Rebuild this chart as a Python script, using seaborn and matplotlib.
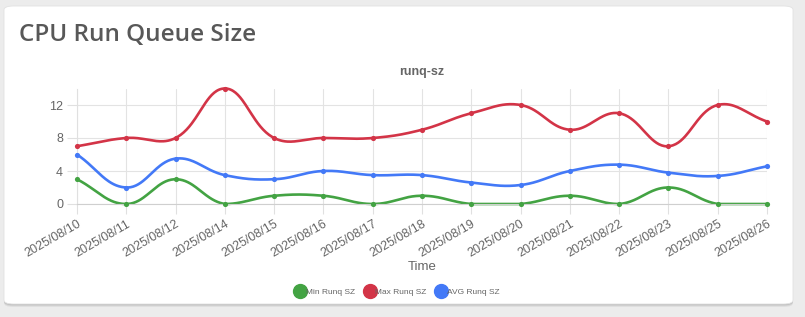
import numpy as np
import pandas as pd
import matplotlib
matplotlib.use("Agg")
import matplotlib.pyplot as plt
from matplotlib.patches import FancyBboxPatch
from matplotlib.lines import Line2D
import seaborn as sns

# ---- data -------------------------------------------------------------
dates = ["2025/08/10", "2025/08/11", "2025/08/12", "2025/08/14", "2025/08/15",
         "2025/08/16", "2025/08/17", "2025/08/18", "2025/08/19", "2025/08/20",
         "2025/08/21", "2025/08/22", "2025/08/23", "2025/08/25", "2025/08/26"]
min_runq = [3, 0, 3, 0, 1, 1, 0, 1, 0, 0, 1, 0, 2, 0, 0]
max_runq = [7, 8, 8, 14, 8, 8, 8, 9, 11, 12, 9, 11, 7, 12, 10]
avg_runq = [6, 2, 5.5, 3.5, 3, 4, 3.5, 3.5, 2.6, 2.3, 4, 4.77, 3.8, 3.4, 4.57]

series_names = ["Min Runq SZ", "Max Runq SZ", "AVG Runq SZ"]
series_colors = ["#43a343", "#d33447", "#4379f7"]
y_ticks = [0, 4, 8, 12]

# ---- helpers ----------------------------------------------------------
W, H = 805, 317
PX_X, PX_Y = 49.29, 8.25   # pixels per category / per unit (for spline distances)
Y_MIN, Y_MAX = 0, 14


def spline(values, tension=0.4, steps=40):
    """Cardinal-style bezier smoothing with control points kept inside the axes."""
    n = len(values)
    px = np.arange(n) * PX_X
    py = np.asarray(values, float) * PX_Y
    cin = np.zeros((n, 2))
    cout = np.zeros((n, 2))
    for i in range(n):
        p0 = np.array([px[max(i - 1, 0)], py[max(i - 1, 0)]])
        p1 = np.array([px[i], py[i]])
        p2 = np.array([px[min(i + 1, n - 1)], py[min(i + 1, n - 1)]])
        d01 = np.hypot(*(p1 - p0))
        d12 = np.hypot(*(p2 - p1))
        tot = d01 + d12
        s01 = d01 / tot if tot else 0
        s12 = d12 / tot if tot else 0
        cin[i] = p1 - tension * s01 * (p2 - p0)
        cout[i] = p1 + tension * s12 * (p2 - p0)
    cin[:, 1] = np.clip(cin[:, 1], Y_MIN * PX_Y, Y_MAX * PX_Y)
    cout[:, 1] = np.clip(cout[:, 1], Y_MIN * PX_Y, Y_MAX * PX_Y)
    xs, ys = [], []
    t = np.linspace(0, 1, steps)[:, None]
    for i in range(n - 1):
        a = np.array([px[i], py[i]])
        b = cout[i]
        c = cin[i + 1]
        d = np.array([px[i + 1], py[i + 1]])
        seg = ((1 - t) ** 3) * a + 3 * ((1 - t) ** 2) * t * b + 3 * (1 - t) * t ** 2 * c + t ** 3 * d
        xs.extend(seg[:, 0] / PX_X)
        ys.extend(seg[:, 1] / PX_Y)
    return np.array(xs), np.array(ys)


# ---- figure -----------------------------------------------------------
sns.set_theme(style="white")
plt.rcParams["font.family"] = ["Liberation Sans", "DejaVu Sans"]

fig = plt.figure(figsize=(W / 100, H / 100), dpi=100, facecolor="#ececec")

# card with a soft shadow
for off, alpha in [(3, 0.05), (2, 0.07), (1, 0.09)]:
    fig.patches.append(FancyBboxPatch(
        (4 / W, (H - 304 - off) / H), 789 / W, 298 / H,
        boxstyle="round,pad=0,rounding_size=0.012", transform=fig.transFigure,
        facecolor="#000000", alpha=alpha, edgecolor="none", zorder=0))
fig.patches.append(FancyBboxPatch(
    (4 / W, (H - 304) / H), 789 / W, 298 / H,
    boxstyle="round,pad=0,rounding_size=0.012", transform=fig.transFigure,
    facecolor="white", edgecolor="#e2e2e2", linewidth=0.6, zorder=1))

fig.text(19 / W, 1 - 35 / H, "CPU Run Queue Size", fontsize=17.5, color="#585858",
         family=["Open Sans", "DejaVu Sans"], fontweight="semibold",
         va="center", ha="left")

left, right, top, bottom = 77, 767, 88.5, 204
ax = fig.add_axes([left / W, 1 - bottom / H, (right - left) / W, (bottom - top) / H])
ax.set_facecolor("none")
ax.set_zorder(2)

rows = []
for name, vals in zip(series_names, [min_runq, max_runq, avg_runq]):
    for i, (d, v) in enumerate(zip(dates, vals)):
        rows.append({"date": d, "idx": i, "value": v, "series": name})
df = pd.DataFrame(rows)

for name, color in zip(series_names, series_colors):
    sub = df[df["series"] == name]
    sx, sy = spline(sub["value"].to_numpy())
    curve = pd.DataFrame({"x": sx, "y": sy})
    sns.lineplot(data=curve, x="x", y="y", ax=ax, color=color, linewidth=1.9,
                 sort=False, estimator=None, clip_on=False)
    sns.scatterplot(data=sub, x="idx", y="value", ax=ax, color=color, s=14,
                    edgecolor=color, linewidth=0, zorder=5, clip_on=False)

ax.set_xlim(0, len(dates) - 1)
ax.set_ylim(Y_MIN, Y_MAX)
ax.set_xticks(range(len(dates)))
ax.set_xticklabels(dates, rotation=30, ha="right", rotation_mode="anchor",
                   fontsize=9, color="#666666")
ax.set_yticks(y_ticks)
ax.set_yticklabels([str(v) for v in y_ticks], fontsize=9, color="#666666")
ax.tick_params(axis="both", length=7, width=0.8, color="#e0e0e0", pad=3,
               bottom=True, left=True)
ax.grid(True, color="#e3e3e3", linewidth=0.8)
ax.set_axisbelow(True)
for s in ["top", "right"]:
    ax.spines[s].set_visible(False)
ax.spines["left"].set_color("#e0e0e0")
ax.spines["bottom"].set_color("#cfcfcf")
ax.spines["left"].set_linewidth(0.8)
ax.spines["bottom"].set_linewidth(0.8)
ax.set_xlabel("")
ax.set_ylabel("")

fig.text(422 / W, 1 - 72 / H, "runq-sz", fontsize=9, fontweight="bold",
         color="#666666", ha="center", va="center")
fig.text(422 / W, 1 - 267 / H, "Time", fontsize=9.5, color="#666666",
         ha="center", va="center")

handles = [Line2D([], [], linestyle="none", marker="o", markersize=10,
                  markerfacecolor=c, markeredgecolor=c) for c in series_colors]
leg = fig.legend(handles, series_names, loc="center",
                 bbox_to_anchor=(397 / W, 1 - 292 / H), ncol=3, frameon=False,
                 fontsize=6, handletextpad=0.0, columnspacing=1.0,
                 handlelength=1.4, borderaxespad=0)
for t in leg.get_texts():
    t.set_color("#666666")

fig.savefig("out.png", dpi=100, facecolor=fig.get_facecolor())
